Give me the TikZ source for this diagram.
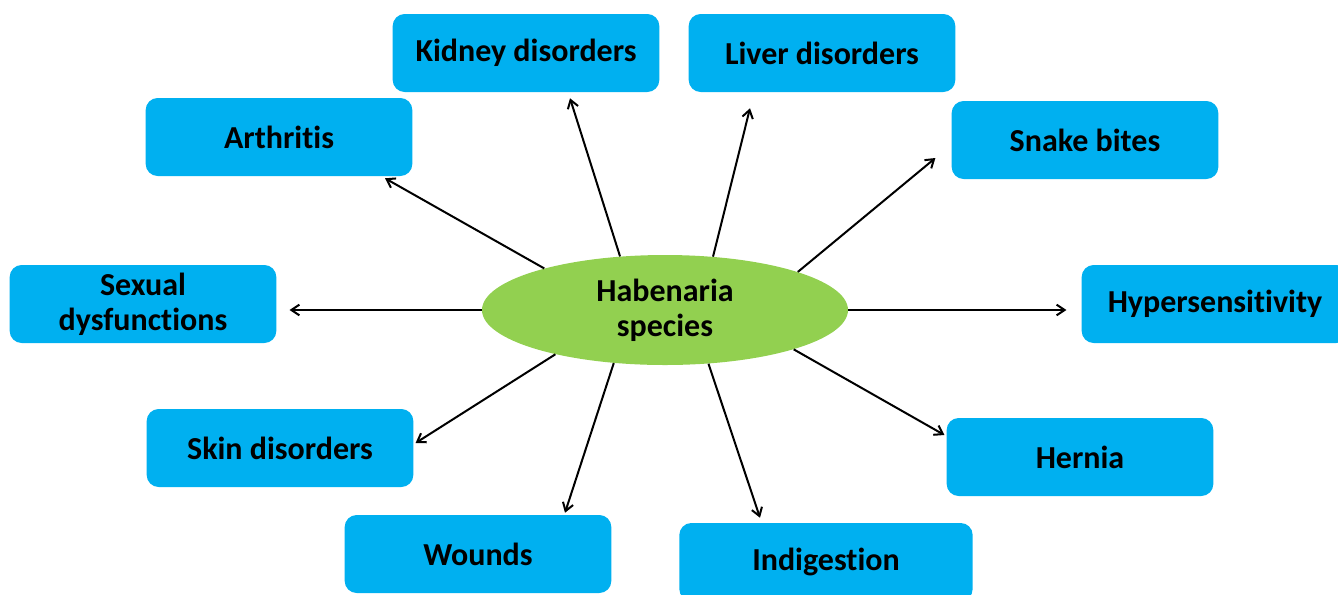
\documentclass[tikz,border=0pt]{standalone}
\usepackage{fontspec}
\setmainfont{Carlito}[Ligatures=NoCommon]
\usetikzlibrary{arrows.meta, calc, shapes.geometric}
\definecolor{cbox}{HTML}{00B0F0}
\definecolor{cleaf}{HTML}{92D050}
\tikzset{
  every picture/.style={font={\bfseries\fontsize{24}{26}\selectfont}},
  box/.style={fill=cbox, rounded corners=9pt, align=center, minimum width=200pt, minimum height=58.5pt, inner sep=0pt},
  arrow/.style={-{Straight Barb[length=6pt, width=8pt]}, line width=1.5pt},
}

\begin{document}
\begin{tikzpicture}[
    x=0.75pt, y=-0.75pt,
    hub/.style={ellipse, fill=cleaf, minimum width=274.5pt, minimum height=82.5pt, inner sep=0pt, align=center},
  ]
  \useasboundingbox (0,0) rectangle (1338,594);

  % centre
  \node[hub] (hab) at (665,310) {Habenaria\\species};

  % top row
  \node[box] (kid)   at (526,53)  {Kidney disorders};
  \node[box] (liver) at (822,53)  {Liver disorders};
  \node[box] (arth)  at (279,137) {Arthritis};
  \node[box] (snake) at (1085,140) {Snake bites};

  % middle row
  \node[box] (sex) at (143,304)  {Sexual\\dysfunctions};
  \node[box] (hyp) at (1215,304) {Hypersensitivity};

  % bottom row
  \node[box] (skin)   at (280,448) {Skin disorders};
  \node[box] (hernia) at (1080,457) {Hernia};
  \node[box] (wound)  at (478,554) {Wounds};
  \node[box, minimum width=220pt] (indig) at (826,562) {Indigestion};

  % arrows
  \draw[arrow] (hab.130) -- ($(kid.south)+(44,6)$);
  \draw[arrow] (hab.48)  -- ($(liver.south)+(-72,16)$);
  \draw[arrow] (hab.161) -- ($(arth.south)+(106,2)$);
  \draw[arrow] (hab.16)  -- ($(snake.west)+(-16,18)$);
  \draw[arrow] (hab.east) -- ([xshift=-11.25pt]hab.east -| hyp.west);
  \draw[arrow] (hab.west) -- ([xshift=9.75pt]hab.west -| sex.east);
  \draw[arrow] (hab.202) -- ($(skin.east)+(2,-5)$);
  \draw[arrow] (hab.226) -- ($(wound.north)+(87,-2)$);
  \draw[arrow] (hab.309) -- ($(indig.north)+(-66,-5)$);
  \draw[arrow] (hab.343) -- ($(hernia.west)+(-2,-22)$);
\end{tikzpicture}
\end{document}
